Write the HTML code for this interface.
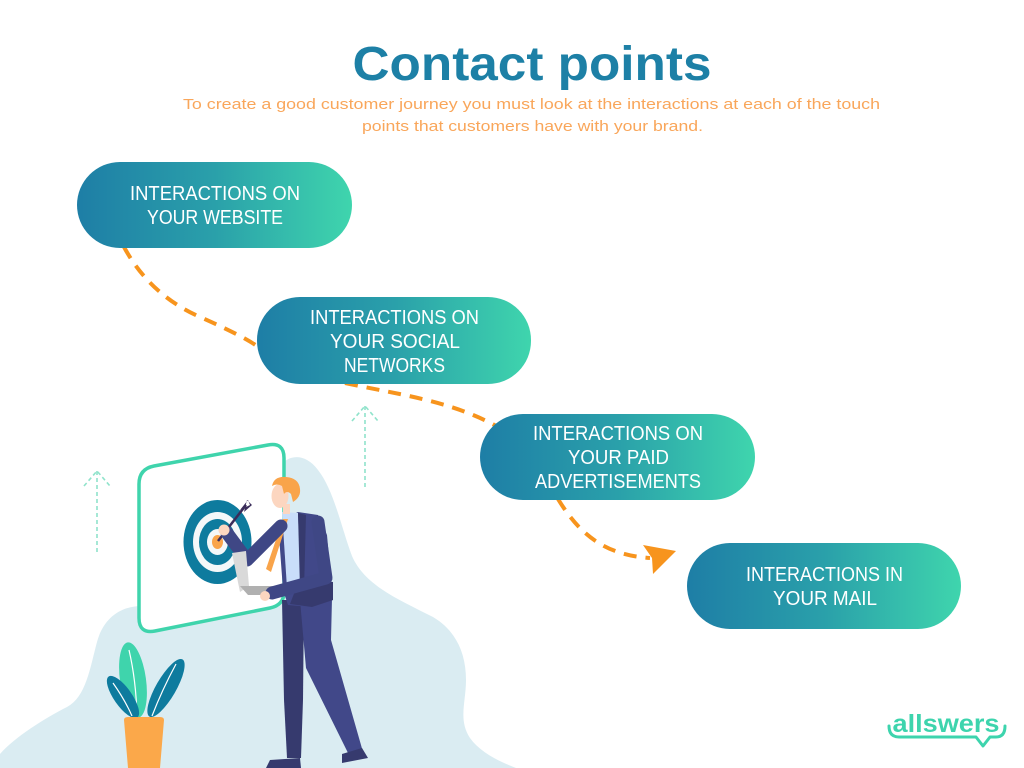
<!DOCTYPE html>
<html>
<head>
<meta charset="utf-8">
<style>
html,body{margin:0;padding:0;background:#ffffff;}
body{width:1024px;height:768px;overflow:hidden;}
svg{display:block;}
</style>
</head>
<body>
<svg width="1024" height="768" viewBox="0 0 1024 768" xmlns="http://www.w3.org/2000/svg">
  <defs>
    <linearGradient id="g" x1="0" y1="0" x2="1" y2="0">
      <stop offset="0" stop-color="#1e7ea6"/>
      <stop offset="0.5" stop-color="#2aa0aa"/>
      <stop offset="1" stop-color="#3fd5ad"/>
    </linearGradient>
  </defs>
  <rect width="1024" height="768" fill="#ffffff"/>

  <!-- Title -->
  <text x="532" y="80" text-anchor="middle" textLength="359" lengthAdjust="spacingAndGlyphs" font-family="Liberation Sans, sans-serif" font-weight="bold" font-size="48" fill="#1d80a6">Contact points</text>
  <text x="531.5" y="109" text-anchor="middle" textLength="697" lengthAdjust="spacingAndGlyphs" font-family="Liberation Sans, sans-serif" font-size="15" fill="#f9a65a">To create a good customer journey you must look at the interactions at each of the touch</text>
  <text x="532.5" y="131" text-anchor="middle" textLength="341" lengthAdjust="spacingAndGlyphs" font-family="Liberation Sans, sans-serif" font-size="15" fill="#f9a65a">points that customers have with your brand.</text>

  <!-- Blob background -->
  <path d="M0,768 L0,754 C15,737 45,718 67,707 C86,697 90,668 97,642 C103,620 118,607 140,606 L200,560 L284,462 C292,455 306,454 318,470 C334,490 342,530 352,556 C365,586 400,600 433,617 C455,630 466,652 466,680 C466,702 458,720 470,738 C480,752 498,761 516,768 Z" fill="#daecf2"/>

  <!-- dotted arrows -->
  <g stroke="#8fe3cb" stroke-width="1.6" stroke-dasharray="4 3" fill="none">
    <line x1="97" y1="471" x2="97" y2="552"/>
    <polyline points="84,486 97,471 110,486"/>
    <line x1="365" y1="406" x2="365" y2="487"/>
    <polyline points="352,421 365,406 378,421"/>
  </g>

  <!-- Frame -->
  <path d="M139,484 Q139,469 154,466 L268,445 Q284,442 284,458 L284,592 Q284,605 270,608 L155,631 Q139,634 139,618 Z" fill="#ffffff" stroke="#3fd4ac" stroke-width="3.5"/>

  <!-- Target -->
  <ellipse cx="217.5" cy="542" rx="34" ry="42" fill="#0e7b9e"/>
  <ellipse cx="217.5" cy="542" rx="24.5" ry="30" fill="#f4f8f9"/>
  <ellipse cx="217.5" cy="542" rx="18.5" ry="23" fill="#0e7b9e"/>
  <ellipse cx="217.5" cy="542" rx="10.5" ry="13" fill="#f4f8f9"/>
  <ellipse cx="217.5" cy="542" rx="5.5" ry="7" fill="#f9a44a"/>
  <!-- dart -->
  <line x1="218" y1="541" x2="246" y2="505" stroke="#3a2c5a" stroke-width="2.5"/>
  <path d="M240,510 L248,500 L250,505 Z M244,512 L252,505 L247,500 Z" fill="#3a2c5a"/>

  <!-- Plant -->
  <ellipse cx="133" cy="680" rx="13" ry="38" fill="#3fd4ac" transform="rotate(-8 133 680)"/>
  <path d="M129,650 Q136,680 137,716" stroke="#ffffff" stroke-width="1.2" fill="none"/>
  <ellipse cx="123" cy="697" rx="9" ry="25" fill="#0e7b9e" transform="rotate(-35 123 697)"/>
  <path d="M113,683 Q125,700 132,716" stroke="#ffffff" stroke-width="1.2" fill="none"/>
  <ellipse cx="166" cy="688" rx="10" ry="33" fill="#0e7b9e" transform="rotate(30 166 688)"/>
  <path d="M176,664 Q162,690 152,716" stroke="#ffffff" stroke-width="1.2" fill="none"/>
  <path d="M124,720 Q124,717 128,717 L160,717 Q164,717 164,720 L160,768 L128,768 Z" fill="#fba84a"/>

  <!-- Man -->
  <!-- legs -->
  <polygon points="282,600 304,600 303,700 301,758 287,758 284,700" fill="#363a6e"/>
  <polygon points="300,600 332,598 331,640 363,752 350,757 306,668" fill="#414889"/>
  <polygon points="270,760 300,758 301,768 266,768" fill="#363a6e"/>
  <polygon points="342,754 362,748 368,758 342,763" fill="#363a6e"/>
  <!-- body -->
  <polygon points="278,522 298,512 318,515 327,535 331,580 333,600 310,607 288,605 283,590" fill="#414889"/>
  <polygon points="300,578 333,582 333,600 312,607 290,604" fill="#363a6e"/>
  <polygon points="282,512 298,513 301,588 287,588" fill="#c9defa"/>
  <polygon points="283,519 288,519 271,572 266,569" fill="#f9a44a"/>
  <polygon points="298,513 306,515 304,590 300,590" fill="#363a6e"/>
  <!-- raised arm -->
  <path d="M227,533 L247,560 L281,526" stroke="#3f4785" stroke-width="13" stroke-linejoin="round" stroke-linecap="round" fill="none"/>
  <circle cx="224" cy="530" r="5.5" fill="#fcd6c0"/>
  <!-- laptop -->
  <polygon points="232,553 246,551 249,586 240,592" fill="#d9d9d9"/>
  <polygon points="240,586 280,586 281,595 248,595" fill="#b0b0b0"/>
  <!-- other arm -->
  <path d="M318,522 L326,578 L272,593" stroke="#3f4785" stroke-width="13" stroke-linejoin="round" stroke-linecap="round" fill="none"/>
  <circle cx="265" cy="596" r="5" fill="#fcd6c0"/>
  <!-- head -->
  <rect x="283" y="504" width="7" height="10" fill="#fcd6c0"/>
  <ellipse cx="280" cy="496" rx="8.5" ry="12" fill="#fcd6c0"/>
  <path d="M272,486 Q274,476 286,477 Q299,478 300,489 Q301,497 293,502 L291,494 Q287,490 284,494 L282,486 Q277,483 272,486 Z" fill="#f9a44a"/>

  <!-- dashed connectors -->
  <g stroke="#f7941d" stroke-width="4" stroke-dasharray="13 9" fill="none">
    <path d="M124,247 Q150,295 200,317 T262,350"/>
    <path d="M345,383 C400,395 450,400 500,428"/>
    <path d="M558,499 C580,535 605,555 650,558"/>
  </g>
  <polygon points="676,551 643,545 652,558 653,574" fill="#f7941d"/>

  <!-- Boxes -->
  <g font-family="Liberation Sans, sans-serif" font-size="20" fill="#ffffff" text-anchor="middle">
    <rect x="77" y="162" width="275" height="86" rx="43" fill="url(#g)"/>
    <text x="215" y="200" textLength="170" lengthAdjust="spacingAndGlyphs">INTERACTIONS ON</text>
    <text x="215" y="224" textLength="136" lengthAdjust="spacingAndGlyphs">YOUR WEBSITE</text>

    <rect x="257" y="297" width="274" height="87" rx="43" fill="url(#g)"/>
    <text x="394.5" y="324" textLength="169" lengthAdjust="spacingAndGlyphs">INTERACTIONS ON</text>
    <text x="395" y="348" textLength="130" lengthAdjust="spacingAndGlyphs">YOUR SOCIAL</text>
    <text x="394.5" y="372" textLength="101" lengthAdjust="spacingAndGlyphs">NETWORKS</text>

    <rect x="480" y="414" width="275" height="86" rx="43" fill="url(#g)"/>
    <text x="618" y="440" textLength="170" lengthAdjust="spacingAndGlyphs">INTERACTIONS ON</text>
    <text x="618.5" y="464" textLength="101" lengthAdjust="spacingAndGlyphs">YOUR PAID</text>
    <text x="618" y="488" textLength="166" lengthAdjust="spacingAndGlyphs">ADVERTISEMENTS</text>

    <rect x="687" y="543" width="274" height="86" rx="43" fill="url(#g)"/>
    <text x="824.5" y="581" textLength="157" lengthAdjust="spacingAndGlyphs">INTERACTIONS IN</text>
    <text x="825" y="605" textLength="104" lengthAdjust="spacingAndGlyphs">YOUR MAIL</text>
  </g>

  <!-- Logo -->
  <text x="946" y="732" text-anchor="middle" textLength="107" lengthAdjust="spacingAndGlyphs" font-family="Liberation Sans, sans-serif" font-weight="bold" font-size="25" fill="#3dd4ad">allswers</text>
  <path d="M889,726 Q889,737 899,737 L976,737 L983,746 L990,737 L996,737 Q1005,737 1005,726" stroke="#3dd4ad" stroke-width="3" fill="none" stroke-linejoin="round" stroke-linecap="round"/>
</svg>
</body>
</html>
